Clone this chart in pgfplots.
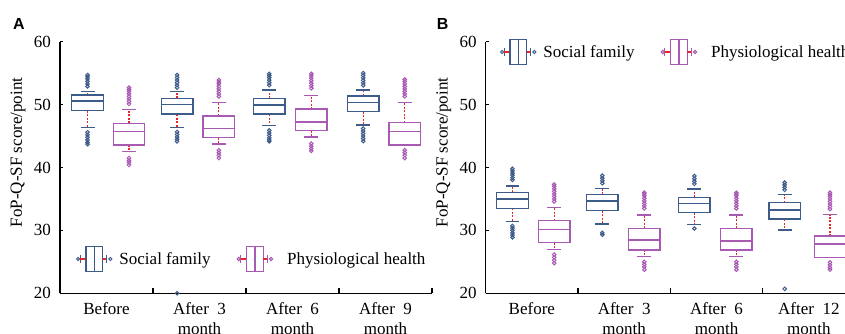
\documentclass[border=0pt]{standalone}
\usepackage{fontspec}
\setmainfont{Liberation Serif}
\newfontfamily\lsans{Liberation Sans}
\usepackage{pgfplots}
\pgfplotsset{compat=1.18}
\usepgfplotslibrary{statistics}
\definecolor{sfblue}{RGB}{62,92,138}
\definecolor{phpurple}{RGB}{168,90,178}
\definecolor{wred}{RGB}{235,35,35}
\newcommand{\tfont}{\fontsize{17}{20}\selectfont}
\pgfplotsset{
  boxplot/draw/lower whisker/.code={%
    \draw[wred, line width=1.2pt, dash pattern=on 2pt off 1.5pt]
      (boxplot cs:\pgfplotsboxplotvalue{lower quartile}) --
      (boxplot cs:\pgfplotsboxplotvalue{lower whisker});
    \draw (boxplot whisker cs:\pgfplotsboxplotvalue{lower whisker},0) --
      (boxplot whisker cs:\pgfplotsboxplotvalue{lower whisker},1);
  },
  boxplot/draw/upper whisker/.code={%
    \draw[wred, line width=1.2pt, dash pattern=on 2pt off 1.5pt]
      (boxplot cs:\pgfplotsboxplotvalue{upper quartile}) --
      (boxplot cs:\pgfplotsboxplotvalue{upper whisker});
    \draw (boxplot whisker cs:\pgfplotsboxplotvalue{upper whisker},0) --
      (boxplot whisker cs:\pgfplotsboxplotvalue{upper whisker},1);
  },
  sfbox/.style={color=sfblue, line width=1.35pt, mark=o, mark size=1.8pt, mark options={solid, line width=1pt}},
  phbox/.style={color=phpurple, line width=1.35pt, mark=o, mark size=1.8pt, mark options={solid, line width=1pt}},
  myaxis/.style={
    scale only axis, height=251.6pt,
    xmin=0, xmax=4, ymin=20, ymax=60,
    axis x line*=bottom, axis y line*=left,
    axis line style={-, line width=1.2pt, black},
    clip=false,
    tick align=inside,
    ytick={20,30,40,50,60},
    major tick length=3pt,
    minor tick length=5pt,
    xtick={0.5,1.5,2.5,3.5},
    minor xtick={1,2,3,4},
    x tick style={line width=1.2pt, black},
    y tick style={line width=1.2pt, black},
    major x tick style={draw=none},
    /pgf/number format/assume math mode=true,
    tick label style={font=\tfont},
    xticklabel style={align=center, yshift=-5.5pt},
    yticklabel style={xshift=-5.5pt},
    ylabel={FoP-Q-SF score/point},
    ylabel style={font=\tfont, at={(axis description cs:0,0.56)}, yshift=42pt, anchor=center},
    legend columns=2,
    legend cell align=left,
    legend style={draw=none, fill=none, inner sep=0pt, outer sep=0pt, font=\tfont,
      /tikz/every odd column/.append style={column sep=5pt},
      /tikz/every even column/.append style={column sep=24pt}},
    boxplot/draw direction=y,
    boxplot/box extend=0.34,
    boxplot/whisker extend=0.15,
  },
}
\newcommand{\bxp}[8]{%
  \addplot[#1, forget plot, boxplot prepared={draw position=#2, lower whisker=#3, lower quartile=#4,
    median=#5, upper quartile=#6, upper whisker=#7}]
    coordinates {#8};
}
\newcommand{\boxlegend}[1]{%
  \addlegendimage{legend image code/.code={
    \draw[#1, line width=1pt] (1.7pt,0pt) circle (1.6pt);
    \draw[#1, line width=1.3pt] (3.8pt,-4pt) -- (3.8pt,4pt);
    \draw[wred, line width=1.1pt] (3.8pt,0pt) -- (9.7pt,0pt);
    \draw[#1, line width=1.35pt] (9.7pt,-12.5pt) rectangle (26.3pt,12.5pt);
    \draw[#1, line width=1.35pt] (18pt,-12.5pt) -- (18pt,12.5pt);
    \draw[wred, line width=1.1pt] (26.3pt,0pt) -- (30.3pt,0pt);
    \draw[#1, line width=1.3pt] (30.3pt,-4pt) -- (30.3pt,4pt);
    \draw[#1, line width=1pt] (34pt,0pt) circle (1.6pt);
  }}%
}
\begin{document}
\begin{tikzpicture}
\useasboundingbox (0,0) rectangle (845pt,334pt);
\clip (0,0) rectangle (845pt,334pt);
% ---------------- Panel A ----------------
\begin{axis}[myaxis, at={(60pt,40.7pt)}, anchor=south west, width=372pt,
  xticklabels={{Before},{After\ \ 3\\month},{After\ \ 6\\month},{After\ \ 9\\month}},
  legend style={at={(0.043,0.1363)}, anchor=west}]
\boxlegend{sfblue}
\addlegendentry{Social family}
\boxlegend{phpurple}
\addlegendentry{\hspace{7pt}Physiological health}
% Before
\bxp{sfbox}{0.296}{46.39}{49.03}{50.57}{51.53}{52.05}{(0,52.9) (0,53.3) (0,53.7) (0,54.1) (0,54.4) (0,54.7) (0,45.6) (0,45.2) (0,44.8) (0,44.4) (0,44.0) (0,43.7)}
\bxp{phbox}{0.742}{42.5}{43.58}{45.7}{47.03}{49.2}{(0,50.1) (0,50.5) (0,50.9) (0,51.3) (0,51.7) (0,52.1) (0,52.4) (0,52.7) (0,41.5) (0,41.1) (0,40.8) (0,40.4)}
% After 3
\bxp{sfbox}{1.259}{46.4}{48.5}{50.04}{51.0}{52.05}{(0,52.7) (0,53.1) (0,53.5) (0,53.9) (0,54.3) (0,54.7) (0,45.65) (0,45.25) (0,44.85) (0,44.5) (0,44.15) (0,20.0)}
\bxp{phbox}{1.708}{43.73}{44.74}{46.23}{48.19}{50.3}{(0,51.3) (0,51.7) (0,52.1) (0,52.5) (0,52.9) (0,53.3) (0,53.6) (0,53.9) (0,42.75) (0,42.35) (0,41.95) (0,41.5)}
% After 6
\bxp{sfbox}{2.25}{46.65}{48.5}{49.93}{51.0}{52.3}{(0,53.1) (0,53.5) (0,53.9) (0,54.3) (0,54.6) (0,54.9) (0,45.9) (0,45.5) (0,45.1) (0,44.7) (0,44.4) (0,44.15)}
\bxp{phbox}{2.702}{44.85}{45.85}{47.23}{49.3}{51.4}{(0,52.6) (0,53.0) (0,53.4) (0,53.8) (0,54.2) (0,54.6) (0,54.9) (0,43.8) (0,43.4) (0,43.0) (0,42.65)}
% After 9
\bxp{sfbox}{3.26}{46.76}{48.87}{50.3}{51.37}{52.32}{(0,53.05) (0,53.45) (0,53.85) (0,54.25) (0,54.65) (0,55.0) (0,46.2) (0,45.8) (0,45.4) (0,45.0) (0,44.6) (0,44.2)}
\bxp{phbox}{3.707}{43.58}{43.58}{45.7}{47.12}{50.3}{(0,51.3) (0,51.7) (0,52.1) (0,52.5) (0,52.9) (0,53.3) (0,53.7) (0,54.0) (0,42.75) (0,42.35) (0,41.95) (0,41.5)}
\end{axis}
% ---------------- Panel B ----------------
\begin{axis}[myaxis, at={(485.7pt,40.7pt)}, anchor=south west, width=369.3pt,
  xticklabels={{Before},{After\ \ 3\\month},{After\ \ 6\\month},{After\ \ 12\\month}},
  legend style={at={(0.0387,0.959)}, anchor=west}]
\boxlegend{sfblue}
\addlegendentry{Social family}
\boxlegend{phpurple}
\addlegendentry{\hspace{7pt}Physiological health}
% Before
\bxp{sfbox}{0.29}{31.4}{33.5}{35.0}{36.05}{37.06}{(0,38.05) (0,38.4) (0,38.8) (0,39.1) (0,39.45) (0,39.8) (0,30.7) (0,30.35) (0,30.0) (0,29.6) (0,29.25) (0,28.9)}
\bxp{phbox}{0.742}{27.0}{28.05}{30.17}{31.55}{33.6}{(0,34.6) (0,35.0) (0,35.4) (0,35.8) (0,36.2) (0,36.6) (0,37.0) (0,37.3) (0,26.15) (0,25.7) (0,25.25) (0,24.8)}
% After 3
\bxp{sfbox}{1.263}{31.02}{33.14}{34.68}{35.74}{36.69}{(0,37.5) (0,37.9) (0,38.3) (0,38.7) (0,29.6) (0,29.3)}
\bxp{phbox}{1.718}{25.83}{26.89}{28.48}{30.33}{32.45}{(0,33.5) (0,33.9) (0,34.3) (0,34.7) (0,35.1) (0,35.5) (0,35.8) (0,36.0) (0,25.0) (0,24.6) (0,24.2) (0,23.75)}
% After 6
\bxp{sfbox}{2.26}{30.97}{32.8}{34.3}{35.26}{36.58}{(0,37.4) (0,37.8) (0,38.2) (0,38.65) (0,30.3)}
\bxp{phbox}{2.715}{25.83}{26.89}{28.3}{30.33}{32.45}{(0,33.5) (0,33.9) (0,34.3) (0,34.7) (0,35.1) (0,35.5) (0,35.8) (0,36.0) (0,25.0) (0,24.6) (0,24.2) (0,23.75)}
% After 12
\bxp{sfbox}{3.238}{30.06}{31.8}{33.24}{34.4}{35.68}{(0,36.45) (0,36.85) (0,37.25) (0,37.6) (0,20.7)}
\bxp{phbox}{3.729}{25.72}{25.72}{27.84}{29.1}{32.5}{(0,33.4) (0,33.8) (0,34.2) (0,34.6) (0,35.0) (0,35.4) (0,35.7) (0,36.0) (0,24.9) (0,24.5) (0,24.1) (0,23.75)}
\end{axis}
\node[font=\lsans\bfseries\fontsize{16}{16}\selectfont, anchor=base west, inner sep=0pt] at (13pt,304pt) {A};
\node[font=\lsans\bfseries\fontsize{16}{16}\selectfont, anchor=base west, inner sep=0pt] at (436.7pt,304pt) {B};
\end{tikzpicture}
\end{document}
